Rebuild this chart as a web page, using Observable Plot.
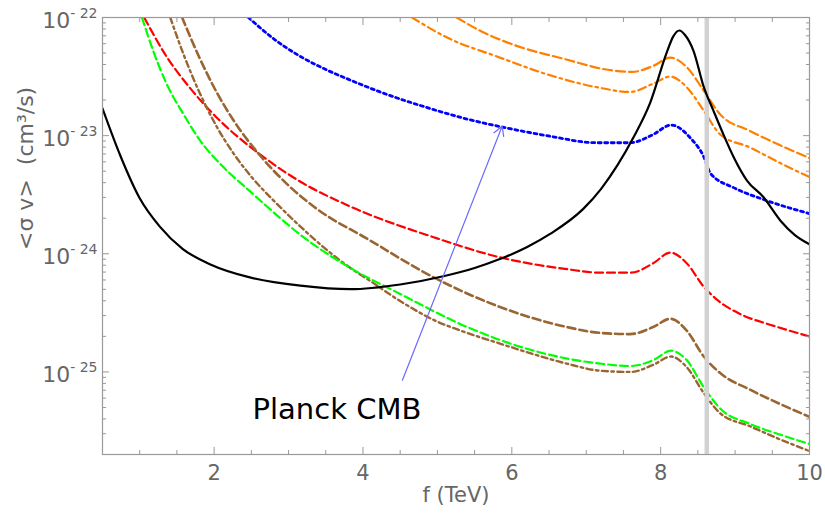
<!DOCTYPE html>
<html><head><meta charset="utf-8">
<script src="https://cdn.jsdelivr.net/npm/d3@7"></script>
<script src="https://cdn.jsdelivr.net/npm/@observablehq/plot@0.6"></script>
<style>
body{margin:0;background:#fff}
#chart svg{display:block}
</style>
</head><body><div id="chart"></div>
<script>
// ---- data (x in TeV, y as log10 of <sigma v> in cm^3/s) ----
const blackX = [0.5,0.74,1.0,1.27,1.58,1.95,2.48,3.16,3.83,4.5,5.08,5.5,5.84,6.2,6.52,6.96,7.2,7.42,7.63,7.86,8.08,8.17,8.25,8.33,8.44,8.58,8.71,8.85,8.98,9.16,9.38,9.61,9.8,10.0];
const blackY = [-22.77,-23.17,-23.53,-23.77,-23.96,-24.09,-24.20,-24.27,-24.30,-24.26,-24.19,-24.12,-24.045,-23.945,-23.83,-23.62,-23.45,-23.25,-23.02,-22.72,-22.30,-22.16,-22.11,-22.15,-22.28,-22.59,-22.79,-23.00,-23.18,-23.38,-23.52,-23.72,-23.84,-23.92];

const blueX = [2.46,2.8,3.16,3.5,3.83,4.23,4.9,5.4,5.89,6.47,7.14,7.59,7.9,8.14,8.4,8.58,8.67,8.98,9.38,10.0];
const blueY = [-22.0,-22.18,-22.33,-22.44,-22.53,-22.63,-22.77,-22.86,-22.93,-23.00,-23.06,-23.06,-22.99,-22.91,-23.02,-23.18,-23.32,-23.44,-23.54,-23.66];

const orangeDashX = [5.26,5.6,6.02,6.7,7.37,7.62,7.9,8.13,8.35,8.58,8.8,9.2,9.6,10.0];
const orangeDashY = [-22.0,-22.12,-22.23,-22.35,-22.45,-22.46,-22.41,-22.34,-22.42,-22.62,-22.82,-22.96,-23.08,-23.19];

const orangeDotDashX = [4.66,5.13,5.8,6.47,7.14,7.59,7.9,8.13,8.35,8.58,8.8,9.2,9.6,10.0];
const orangeDotDashY = [-22.0,-22.17,-22.33,-22.48,-22.59,-22.63,-22.56,-22.50,-22.59,-22.79,-22.99,-23.10,-23.23,-23.35];

const redX = [1.06,1.36,1.68,2.04,2.62,3.16,3.83,4.95,5.84,6.74,7.19,7.6,7.9,8.13,8.35,8.58,8.76,9.07,9.52,10.0];
const redY = [-22.0,-22.33,-22.60,-22.85,-23.16,-23.39,-23.60,-23.86,-24.03,-24.13,-24.16,-24.16,-24.08,-23.99,-24.08,-24.28,-24.39,-24.51,-24.61,-24.70];

const brownDashX = [1.57,1.81,2.04,2.26,2.62,2.98,3.38,4.05,4.95,5.84,6.74,7.19,7.59,7.9,8.13,8.35,8.58,8.8,9.2,9.6,10.0];
const brownDashY = [-22.0,-22.35,-22.64,-22.87,-23.17,-23.41,-23.62,-23.87,-24.20,-24.45,-24.62,-24.67,-24.68,-24.62,-24.55,-24.65,-24.87,-25.01,-25.15,-25.27,-25.38];

const brownDotDashX = [1.41,1.6,1.8,2.04,2.26,2.53,2.8,3.16,3.5,3.83,4.05,4.5,4.95,5.4,5.84,6.29,6.74,7.19,7.6,7.9,8.14,8.35,8.58,8.8,9.2,9.6,10.0];
const brownDotDashY = [-22.0,-22.33,-22.63,-22.93,-23.15,-23.37,-23.55,-23.77,-23.96,-24.12,-24.21,-24.40,-24.56,-24.67,-24.76,-24.85,-24.93,-24.99,-25.0,-24.94,-24.87,-24.96,-25.18,-25.35,-25.46,-25.57,-25.67];

const greenX = [1.03,1.18,1.36,1.59,1.81,2.13,2.48,2.71,3.16,3.83,4.5,5.4,6.29,7.19,7.6,7.9,8.14,8.35,8.58,8.8,9.2,9.6,10.0];
const greenY = [-22.0,-22.28,-22.56,-22.82,-23.04,-23.27,-23.47,-23.60,-23.84,-24.12,-24.34,-24.62,-24.82,-24.93,-24.95,-24.90,-24.82,-24.90,-25.13,-25.31,-25.44,-25.53,-25.61];

const thresholdX = [8.62];

const arrowStart = [4.53, -25.07];
const arrowEnd = [5.87, -22.92];
const planckLabel = "Planck CMB";
const planckPos = [3.65, -25.32];

const xMajor = [2,4,6,8,10];
const xMinor = [0.5,1,1.5,2.5,3,3.5,4.5,5,5.5,6.5,7,7.5,8.5,9,9.5];
const yMajor = [1e-25,1e-24,1e-23,1e-22];
const yMinor = [2e-26,3e-26,4e-26,5e-26,6e-26,7e-26,8e-26,9e-26,
                2e-25,3e-25,4e-25,5e-25,6e-25,7e-25,8e-25,9e-25,
                2e-24,3e-24,4e-24,5e-24,6e-24,7e-24,8e-24,9e-24,
                2e-23,3e-23,4e-23,5e-23,6e-23,7e-23,8e-23,9e-23];
const xTitle = "f (TeV)";
const yTitle = "<σ v>  (cm³/s)";

// ---- build tables ----
const toRows = (xs, ys) => xs.map((x, i) => ({x, y: Math.pow(10, ys[i])}));
const series = [
  {rows: toRows(orangeDashX, orangeDashY), stroke: "#ff8000", dash: "9,4", w: 2.2},
  {rows: toRows(orangeDotDashX, orangeDotDashY), stroke: "#ff8000", dash: "8,4,2.5,4", w: 2.2},
  {rows: toRows(blueX, blueY), stroke: "#0000ff", dash: "3,3.5", w: 2.8},
  {rows: toRows(redX, redY), stroke: "#ff0000", dash: "8,4", w: 2.2},
  {rows: toRows(brownDashX, brownDashY), stroke: "#996633", dash: "8,4", w: 2.6},
  {rows: toRows(brownDotDashX, brownDotDashY), stroke: "#996633", dash: "6,3.5,2.5,3.5", w: 2.4},
  {rows: toRows(greenX, greenY), stroke: "#00ff00", dash: "8,4", w: 2.2},
];
const blackRows = toRows(blackX, blackY);
const arrowRows = [{x1: arrowStart[0], y1: Math.pow(10, arrowStart[1]), x2: arrowEnd[0], y2: Math.pow(10, arrowEnd[1])}];
const labelRows = [{x: planckPos[0], y: Math.pow(10, planckPos[1]), t: planckLabel}];

const tickColor = "#999";
const labelColor = "#666";
const font = "'DejaVu Sans', sans-serif";

const noText = () => "";
const plot = Plot.plot({
  width: 825,
  height: 518,
  marginLeft: 102,
  marginRight: 16,
  marginTop: 17,
  marginBottom: 64,
  style: {fontFamily: font, background: "#fff", overflow: "visible"},
  x: {domain: [0.5, 10]},
  y: {type: "log", domain: [2e-26, 1e-22]},
  marks: [
    ...series.map(s => Plot.line(s.rows, {x: "x", y: "y", stroke: s.stroke, strokeWidth: s.w, strokeDasharray: s.dash, curve: "monotone-x", clip: true})),
    Plot.ruleX(thresholdX, {stroke: "#d2d2d2", strokeWidth: 4.5}),
    Plot.line(blackRows, {x: "x", y: "y", stroke: "#000", strokeWidth: 2.2, curve: "monotone-x", clip: true}),
    Plot.arrow(arrowRows, {x1: "x1", y1: "y1", x2: "x2", y2: "y2", stroke: "#6a6aff", strokeWidth: 1.2, headLength: 13}),
    Plot.text(labelRows, {x: "x", y: "y", text: "t", fontSize: 29, fill: "#000"}),
    // frame
    Plot.frame({stroke: tickColor, strokeWidth: 1.2}),
    // inward ticks
    Plot.axisY(yMajor, {anchor: "left", tickSize: -7, tickFormat: noText, stroke: tickColor, label: null}),
    Plot.axisY(yMinor, {anchor: "left", tickSize: -4, tickFormat: noText, stroke: tickColor, label: null}),
    Plot.axisY(yMajor, {anchor: "right", tickSize: -7, tickFormat: noText, stroke: tickColor, label: null}),
    Plot.axisY(yMinor, {anchor: "right", tickSize: -4, tickFormat: noText, stroke: tickColor, label: null}),
    Plot.axisX(xMajor, {anchor: "bottom", tickSize: -7, tickFormat: noText, stroke: tickColor, label: null}),
    Plot.axisX(xMinor, {anchor: "bottom", tickSize: -4, tickFormat: noText, stroke: tickColor, label: null}),
    Plot.axisX(xMajor, {anchor: "top", tickSize: -7, tickFormat: noText, stroke: tickColor, label: null}),
    Plot.axisX(xMinor, {anchor: "top", tickSize: -4, tickFormat: noText, stroke: tickColor, label: null}),
    // tick labels
    Plot.axisY(yMajor, {anchor: "left", tickSize: 0, tickPadding: 5, dy: 3, fontSize: 22, fill: labelColor, label: null,
      tickFormat: d => "10^" + Math.round(Math.log10(d))}),
    Plot.axisX(xMajor, {anchor: "bottom", tickSize: 0, tickPadding: 11, fontSize: 21, fill: labelColor, label: null,
      tickFormat: d => String(d)}),
    // axis titles
    Plot.text([xTitle], {frameAnchor: "bottom", dy: 47, text: d => d, fontSize: 21, fill: labelColor}),
    Plot.text([yTitle], {frameAnchor: "left", dx: -77, dy: 14, rotate: -90, text: d => d, fontSize: 22, fill: labelColor})
  ]
});

d3.select(plot).selectAll("text").each(function () {
  const t = this.textContent;
  if (!t.startsWith("10^")) return;
  const exp = t.slice(3);
  const sel = d3.select(this);
  sel.text(null);
  sel.append("tspan").text("10");
  sel.append("tspan").attr("dy", "-10").attr("font-size", "14").text(exp.replace("-", "- "));
});

document.getElementById("chart").appendChild(plot);
</script>
</body></html>
